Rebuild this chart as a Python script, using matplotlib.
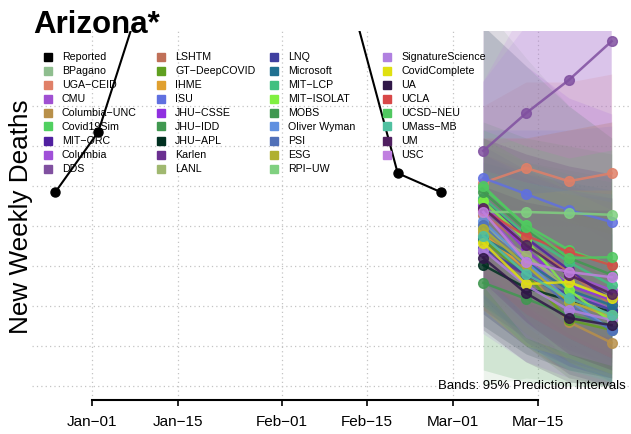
#!/usr/bin/env python3
"""Arizona weekly deaths: reported series plus ensemble member forecasts"""

import numpy as np
import pandas as pd
import matplotlib
matplotlib.use("Agg")
import matplotlib.pyplot as plt
import matplotlib.dates as mdates

plt.rcParams["font.family"] = ["Liberation Sans", "DejaVu Sans"]
MINUS = "\u2212"

## data ##
report_dates = pd.to_datetime(["2020-12-26", "2021-01-02", "2021-01-09", "2021-01-16",
                               "2021-01-23", "2021-01-30", "2021-02-06", "2021-02-13",
                               "2021-02-20", "2021-02-27"])
report_vals = [485, 635, 968, 1150, 1240, 1180, 1060, 930, 532, 485]

fcst_dates = pd.to_datetime(["2021-03-06", "2021-03-13", "2021-03-20", "2021-03-27"])

models = ["BPagano", "UGA-CEID", "CMU", "Columbia-UNC", "Covid19Sim", "MIT-ORC",
          "Columbia", "DDS", "LSHTM", "GT-DeepCOVID", "IHME", "ISU", "JHU-CSSE",
          "JHU-IDD", "JHU-APL", "Karlen", "LANL", "LNQ", "Microsoft", "MIT-LCP",
          "MIT-ISOLAT", "MOBS", "Oliver Wyman", "PSI", "ESG", "RPI-UW",
          "SignatureScience", "CovidComplete", "UA", "UCLA", "UCSD-NEU",
          "UMass-MB", "UM", "USC"]

colors = ["#8fbe8f", "#e08068", "#a050d2", "#b8904a", "#50d060", "#5020a0",
          "#a050d8", "#8050a0", "#c07058", "#60a020", "#e0a030", "#6070e0",
          "#9030e0", "#409850", "#003020", "#6a3090", "#a0b870", "#4040a0",
          "#207090", "#40c080", "#80f040", "#409850", "#6090e0", "#5070b8",
          "#b0b030", "#80d080", "#b080e0", "#e0e010", "#301848", "#d84848",
          "#50c860", "#50c0a0", "#502060", "#c080e0"]

medians = [
    [402, 320, 258, 215], [508, 545, 512, 532], [452, 352, 278, 240],
    [385, 290, 160, 108], [495, 402, 340, 302], [465, 370, 290, 215],
    [440, 315, 240, 190], [588, 682, 765, 862], [428, 352, 285, 202],
    [365, 278, 165, 140], [378, 295, 215, 170], [520, 480, 440, 410],
    [452, 340, 252, 215], [258, 218, 178, 152], [302, 245, 215, 185],
    [335, 278, 220, 178], [395, 328, 240, 170], [345, 280, 228, 190],
    [370, 310, 240, 202], [470, 378, 310, 252], [462, 365, 240, 160],
    [485, 390, 320, 278], [412, 310, 215, 140], [402, 295, 202, 140],
    [392, 302, 210, 178], [435, 435, 432, 428], [340, 252, 190, 165],
    [358, 255, 260, 220], [320, 232, 170, 152], [440, 375, 335, 302],
    [500, 398, 320, 322], [375, 280, 220, 178], [445, 352, 278, 230],
    [435, 310, 285, 272],
]

lower = [
    [0, 20, 10, 0], [300, 280, 220, 200], [250, 150, 90, 60],
    [200, 100, 30, 0], [330, 230, 160, 110], [300, 200, 120, 60],
    [220, 110, 50, 20], [380, 400, 400, 400], [250, 170, 100, 40],
    [180, 100, 20, 0], [300, 210, 130, 80], [320, 260, 200, 150],
    [270, 160, 90, 50], [40, 10, 0, 0], [150, 80, 40, 20],
    [190, 120, 60, 30], [290, 200, 110, 50], [180, 100, 50, 20],
    [200, 130, 70, 30], [300, 200, 130, 80], [290, 170, 60, 10],
    [300, 200, 120, 70], [260, 150, 70, 10], [210, 110, 30, 0],
    [230, 130, 60, 20], [250, 210, 170, 140], [130, 60, 20, 0],
    [190, 100, 70, 30], [140, 60, 10, 0], [270, 180, 120, 70],
    [340, 230, 150, 120], [200, 100, 40, 10], [260, 160, 80, 40],
    [250, 120, 80, 50],
]

upper = [
    [950, 820, 700, 620], [700, 760, 760, 780], [580, 540, 500, 480],
    [540, 480, 400, 360], [600, 560, 540, 520], [580, 520, 470, 420],
    [900, 800, 720, 680], [900, 1100, 1300, 1500], [580, 540, 500, 470],
    [520, 470, 400, 380], [470, 400, 330, 290], [640, 640, 640, 650],
    [600, 540, 490, 470], [900, 800, 700, 620], [480, 460, 440, 420],
    [480, 440, 410, 390], [540, 490, 420, 360], [520, 500, 480, 470],
    [560, 530, 510, 490], [620, 560, 530, 510], [620, 560, 490, 440],
    [660, 620, 600, 580], [540, 480, 410, 380], [580, 530, 490, 470],
    [540, 510, 480, 460], [600, 620, 640, 660], [760, 900, 1000, 1100],
    [520, 480, 490, 490], [500, 460, 440, 440], [620, 620, 640, 660],
    [640, 600, 570, 590], [540, 510, 490, 480], [620, 580, 550, 530],
    [760, 950, 1050, 1150],
]

tick_dates = pd.to_datetime(["2021-01-01", "2021-01-15", "2021-02-01",
                             "2021-02-15", "2021-03-01", "2021-03-15"])


def fig_xy(px, py):
    """pixel position in the 631x434 canvas -> figure fraction"""
    return px / 631, 1 - py / 434


def main():
    fig = plt.figure(figsize=(6.31, 4.34), dpi=100)
    ax = fig.add_axes([32 / 631, 34 / 434, 599 / 631, 369 / 434])

    # bands first, then forecast lines on top
    for i in range(len(models)):
        ax.fill_between(fcst_dates, lower[i], upper[i], color=colors[i],
                        alpha=0.16, lw=0, zorder=1)
    for i in range(len(models)):
        ax.plot(fcst_dates, medians[i], color=colors[i], lw=1.8, marker="o",
                ms=7, alpha=0.85, zorder=3)

    ax.plot(report_dates, report_vals, color="black", lw=1.5, marker="o",
            ms=6.5, zorder=4)

    ax.set_xlim(pd.Timestamp("2020-12-22 04:00"), pd.Timestamp("2021-03-30 04:00"))
    ax.set_ylim(-35, 887.5)

    # grid like R's grid(): dotted light grey
    ax.set_yticks(np.arange(0, 800, 100))
    ax.set_xticks(tick_dates)
    ax.xaxis.set_major_formatter(mdates.DateFormatter("%b" + MINUS + "%d"))
    ax.grid(True, color="#c4c4c4", linestyle=(0, (1, 2.5)), lw=0.9)
    ax.set_axisbelow(True)

    for side in ["left", "top", "right"]:
        ax.spines[side].set_visible(False)
    ax.spines["bottom"].set_linewidth(1.5)
    ax.spines["bottom"].set_bounds(mdates.date2num(tick_dates[0]),
                                   mdates.date2num(tick_dates[-1]))
    ax.tick_params(axis="y", length=0, labelleft=False)
    ax.tick_params(axis="x", direction="out", length=4, width=1.2,
                   labelsize=11, pad=6.5)

    # legend drawn R-style: 4 equal columns, filled column-wise
    labels = ["Reported"] + models
    swatches = ["black"] + colors
    for k, (lab, col) in enumerate(zip(labels, swatches)):
        c, r = divmod(k, 9)
        sx = 47.5 + 113 * c
        sy = 56.5 + 14 * r
        ax.plot(*fig_xy(sx, sy), marker="s", ms=6, color=col,
                transform=fig.transFigure, clip_on=False, zorder=5)
        fig.text(*fig_xy(sx + 14.5, sy + 3.8), lab.replace("-", MINUS),
                 fontsize=7.7, ha="left", va="baseline")

    fig.text(*fig_xy(33, 33), "Arizona*", fontsize=22.5, fontweight="bold",
             ha="left", va="baseline")
    fig.text(*fig_xy(33.5, 217), "New Weekly Deaths", fontsize=18.8,
             rotation=90, ha="right", va="center")
    fig.text(*fig_xy(626, 389), "Bands: 95% Prediction Intervals",
             fontsize=9.5, ha="right", va="baseline")

    fig.savefig("out.png", dpi=100)


if __name__ == "__main__":
    main()
